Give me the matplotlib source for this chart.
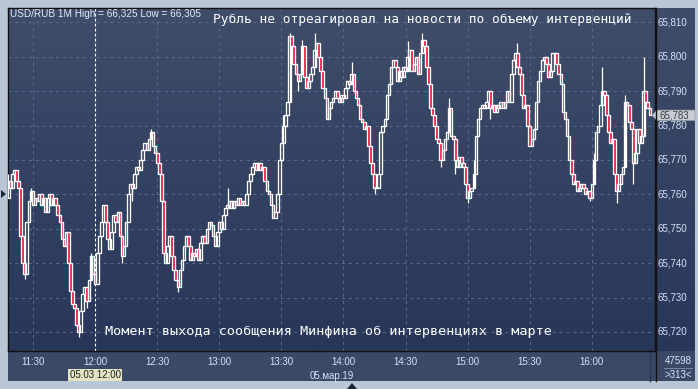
import numpy as np
import matplotlib
matplotlib.use("Agg")
import matplotlib.pyplot as plt
from matplotlib.patches import Rectangle, Polygon
from matplotlib.colors import LinearSegmentedColormap

# ---------------- data (prices as thousandths above 65.000) ----------------
first_minute = 18          # minutes after 11:00 of the first candle (11:18)
first_open = 759
closes = [
    764, 762, 766, 767, 764, 762, 748, 740, 737, 752,
    758, 761, 757, 759, 758, 760, 757, 759, 755, 759,
    760, 757, 759, 757, 754, 752, 747, 745, 749, 740,
    732, 728, 727, 722, 720, 726, 731, 733, 729, 735,
    742, 737, 734, 743, 748, 752, 757, 752, 747, 744,
    749, 754, 752, 755, 748, 742, 745, 752, 760, 763,
    762, 766, 768, 767, 770, 773, 775, 773, 776, 778,
    774, 772, 769, 766, 758, 743, 740, 745, 748, 742,
    738, 735, 733, 738, 741, 745, 748, 745, 741, 743,
    742, 744, 741, 746, 748, 746, 750, 752, 751, 748,
    745, 749, 752, 750, 754, 756, 757, 758, 756, 758,
    757, 759, 757, 758, 757, 760, 764, 766, 768, 769,
    767, 769, 767, 768, 764, 761, 760, 757, 753, 755,
    760, 770, 775, 780, 783, 787, 806, 803, 798, 795,
    793, 795, 803, 794, 791, 793, 795, 797, 802, 804,
    800, 796, 791, 788, 782, 785, 787, 788, 790, 788,
    787, 789, 788, 791, 793, 792, 795, 790, 788, 786,
    782, 781, 779, 780, 774, 769, 766, 762, 762, 766,
    778, 780, 782, 789, 792, 797, 799, 797, 793, 796,
    794, 797, 796, 800, 802, 796, 798, 800, 795, 801,
    805, 803, 797, 792, 785, 783, 780, 776, 775, 770,
    773, 776, 778, 785, 777, 776, 770, 768, 771, 769,
    768, 763, 759, 761, 762, 766, 777, 782, 785, 786,
    785, 787, 790, 785, 786, 784, 786, 785, 787, 785,
    787, 790, 787, 795, 799, 801, 797, 795, 789, 785,
    786, 780, 774, 776, 779, 787, 793, 796, 799, 800,
    798, 794, 796, 801, 801, 798, 795, 792, 784, 782,
    777, 770, 766, 763, 764, 761, 762, 763, 762, 760,
    761, 759, 763, 770, 778, 780, 786, 790, 789, 783,
    778, 775, 776, 766, 761, 763, 766, 768, 787, 786,
    781, 779, 769, 772, 779, 775, 777, 790, 787, 785,
    783,
]
high_wicks = {0: 766, 11: 762, 40: 743, 69: 779, 106: 762, 133: 783, 136: 807,
              142: 805, 148: 807, 166: 798.5, 193: 804.5, 200: 807, 213: 788,
              246: 804, 287: 797, 298: 789, 307: 800, 225: 770, 283: 772}
low_wicks = {8: 735.5, 34: 718.5, 82: 731.5, 177: 760, 222: 757.5, 281: 758,
             294: 757.5, 302: 763, 38: 727, 55: 740, 60: 758, 140: 790,
             209: 768, 216: 766, 233: 782}

time_ticks = ["11:30", "12:00", "12:30", "13:00", "13:30", "14:00",
              "14:30", "15:00", "15:30", "16:00"]
time_tick_minutes = [30, 60, 90, 120, 150, 180, 210, 240, 270, 300]
price_ticks = [720, 730, 740, 750, 760, 770, 780, 790, 800, 810]
last_price = 783
cursor_minute = 60

# ---------------- figure ----------------
W, H = 698, 389
fig = plt.figure(figsize=(W / 100, H / 100), dpi=100)
fig.patch.set_facecolor('#b8c6d6')

def fax(l, t, r, b):
    return fig.add_axes([l / W, 1 - b / H, (r - l) / W, (b - t) / H])

txt_col = '#d6e2f4'
font = 'Liberation Sans'

# bottom axis panel
axb = fax(8, 351, 695, 381)
axb.set_xlim(0, 1); axb.set_ylim(0, 1)
axb.set_facecolor('#3b4966')
for s in axb.spines.values():
    s.set_visible(False)
axb.set_xticks([]); axb.set_yticks([])

# right panel
axr = fax(655, 8, 695, 351)
g = np.linspace(0, 1, 256).reshape(-1, 1)
cmap = LinearSegmentedColormap.from_list('bg', ['#3f4d6a', '#28365a'])
axr.imshow(g, cmap=cmap, aspect='auto', extent=[0, 1, 0, 1], origin='upper')
axr.set_xlim(0, 1); axr.set_ylim(0, 1)
for s in axr.spines.values():
    s.set_visible(False)
axr.set_xticks([]); axr.set_yticks([])

# main plot
ax = fax(8, 8, 655, 351)
x0 = 30 - 25 / 2.07
x1 = 30 + 622 / 2.07
y0 = 720 - 19 / 3.44
y1 = 720 + 324 / 3.44
ax.set_xlim(x0, x1); ax.set_ylim(y0, y1)
ax.imshow(g, cmap=cmap, aspect='auto', extent=[x0, x1, y0, y1], origin='upper', zorder=0)
for s in ax.spines.values():
    s.set_color('#111111'); s.set_linewidth(1.0)
ax.set_xticks([]); ax.set_yticks([])

grid_col = '#5b6b8c'
for p in price_ticks:
    ax.axhline(p, color=grid_col, lw=0.7, ls=(0, (3, 4)), zorder=1)
for m in time_tick_minutes:
    if m != cursor_minute:
        ax.axvline(m, color=grid_col, lw=0.7, ls=(0, (3, 4)), zorder=1)
ax.axvline(cursor_minute, color='white', lw=0.8, ls=(0, (2.5, 2)), zorder=1)

# candles
opens = [first_open] + closes[:-1]
minutes = [first_minute + i for i in range(len(closes))]
red = '#e8123c'
for i, (t, o, c) in enumerate(zip(minutes, opens, closes)):
    hi = max(o, c, high_wicks.get(i, max(o, c)))
    lo = min(o, c, low_wicks.get(i, min(o, c)))
    if hi > max(o, c) or lo < min(o, c):
        ax.plot([t, t], [lo, hi], color='white', lw=0.9, zorder=3, solid_capstyle='butt')
    bottom = min(o, c)
    h = abs(c - o)
    face = red if c < o else 'none'
    ax.add_patch(Rectangle((t - 0.65, bottom), 1.3, max(h, 0.2), facecolor=face,
                           edgecolor='white', lw=0.95, zorder=4))

# texts inside plot
ax.text(2 / 647, 1 - 6 / 343, 'USD/RUB 1M High = 66,325 Low = 66,305', transform=ax.transAxes,
        color='#e4ecfa', fontsize=7.2, family=font, ha='left', va='center', zorder=6)
ax.text(205 / 647, 1 - 12 / 343, 'Рубль не отреагировал на новости по объему интервенций',
        transform=ax.transAxes, color='white', fontsize=9.25, family='DejaVu Sans Mono',
        ha='left', va='center', zorder=6)
ax.text(97 / 647, 1 - 323 / 343, 'Момент выхода сообщения Минфина об интервенциях в марте',
        transform=ax.transAxes, color='white', fontsize=9.7, family='DejaVu Sans Mono',
        ha='left', va='center', zorder=6)

# right price labels
ytr = ax.get_yaxis_transform()
for p in price_ticks:
    ax.text(1 + 3 / 647, p, '65,%03d' % p, transform=ytr, color=txt_col, fontsize=7.0,
            family=font, ha='left', va='center', clip_on=False, zorder=7)
# last price marker
pts = [(1 - 3 / 647, last_price), (1 + 2 / 647, last_price + 1.5), (1 + 40 / 647, last_price + 1.5),
       (1 + 40 / 647, last_price - 1.5), (1 + 2 / 647, last_price - 1.5)]
ax.add_patch(Polygon(pts, closed=True, transform=ytr, facecolor='#c9cdd3', edgecolor='#9aa0a8',
                     lw=0.5, clip_on=False, zorder=8))
ax.text(1 + 4 / 647, last_price, '65,%03d' % last_price, transform=ytr, color='#3a3f48',
        fontsize=7.0, family=font, ha='left', va='center', clip_on=False, zorder=9)

# time labels
xtr = ax.get_xaxis_transform()
for m, lab in zip(time_tick_minutes, time_ticks):
    ax.text(m, -11 / 343, lab, transform=xtr, color=txt_col, fontsize=7.0, family=font,
            ha='center', va='center', clip_on=False, zorder=7)
ax.text(cursor_minute, -24 / 343, '05.03 12:00', transform=xtr, color='#222222', fontsize=7.0,
        family=font, ha='center', va='center', clip_on=False, zorder=8,
        bbox=dict(boxstyle='square,pad=0.15', fc='#e4e4c4', ec='none'))
ax.text((332 - 8) / 647, -25 / 343, '05.мар.19', transform=ax.transAxes, color=txt_col,
        fontsize=7.0, family=font, ha='center', va='center', clip_on=False, zorder=7)

# bottom-right counters
fig.text(678 / W, 1 - 361 / H, '47598', color=txt_col, fontsize=7.0, family=font,
         ha='center', va='center')
fig.text(678 / W, 1 - 375 / H, '>313<', color=txt_col, fontsize=7.0, family=font,
         ha='center', va='center')
fig.add_artist(plt.Line2D([664 / W, 692 / W], [1 - 368 / H, 1 - 368 / H], color='#8090b0', lw=0.6))
fig.add_artist(plt.Line2D([655.5 / W, 655.5 / W], [1 - 8 / H, 1 - 381 / H], color='#111111', lw=1.0))
fig.add_artist(plt.Line2D([650 / W, 650 / W], [1 - 352 / H, 1 - 381 / H], color='#2a3550', lw=1.0))

# small arrows on the frame
fig.add_artist(Polygon([(1 / W, 1 - 190 / H), (1 / W, 1 - 198 / H), (6 / W, 1 - 194 / H)],
                       closed=True, transform=fig.transFigure, fc='#1c2436', ec='none'))
fig.add_artist(Polygon([(347 / W, 1 - 389 / H), (357 / W, 1 - 389 / H), (352 / W, 1 - 383 / H)],
                       closed=True, transform=fig.transFigure, fc='#1c2436', ec='none'))

fig.savefig('out.png', dpi=100, facecolor=fig.get_facecolor())
